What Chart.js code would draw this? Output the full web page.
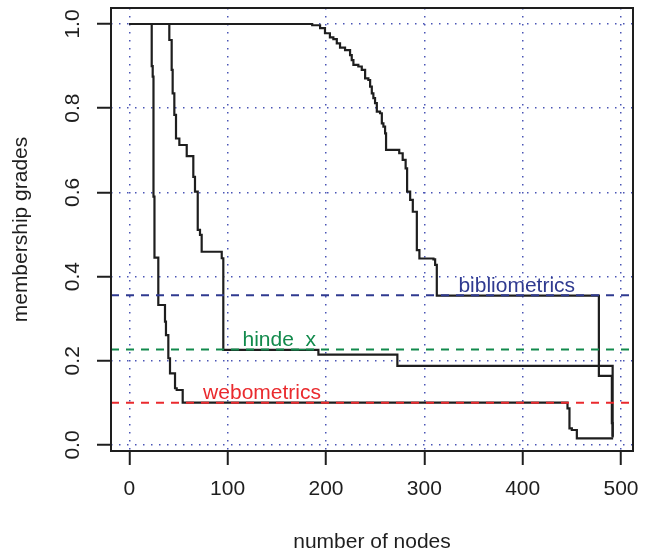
<!DOCTYPE html>
<html>
<head>
<meta charset="utf-8">
<script src="https://cdn.jsdelivr.net/npm/chart.js@4.4.1/dist/chart.umd.min.js"></script>
<style>
  html, body { margin: 0; padding: 0; background: #fff; }
  #wrap { width: 648px; height: 554px; }
</style>
</head>
<body>
<div id="wrap"><canvas id="membershipChart" width="648" height="554"></canvas></div>
<script>
// Step curves: node where each step lands, grade after the step
const webNodes  = [0, 22.8, 23.8, 24.6, 25.6, 29.5, 36.3, 37.3, 39.7, 41.4, 46.5, 48.2, 54.3, 445.6, 447.6, 450, 455.1, 492];
const webGrades = [1, 0.90, 0.875, 0.59, 0.445, 0.3325, 0.293, 0.261, 0.206, 0.170, 0.1347, 0.1306, 0.1005, 0.087, 0.0396, 0.0356, 0.0159, 0.0159];

const hindeNodes  = [0, 40.7, 43.1, 44.1, 45.8, 47.5, 50.9, 58.4, 65.1, 66.8, 69.6, 71.9, 73.6, 94, 95.6, 192.3, 272.6, 491.5];
const hindeGrades = [1, 0.962, 0.891, 0.835, 0.784, 0.728, 0.7126, 0.686, 0.637, 0.602, 0.511, 0.499, 0.459, 0.4435, 0.2257, 0.2145, 0.1877, 0.018];

const biblioNodes  = [0, 186, 194, 199, 204, 207.5, 211, 214.3, 219.4, 224.5, 226.2, 227.9, 232.9, 236.4, 239.8, 243.1, 244.9, 246.6, 248.2, 249.9,
                      251.7, 255, 256.8, 258.4, 260.1, 261.1, 274.5, 278, 281, 282.5, 285.6, 288.3, 292.4, 295, 309.3, 311, 312.7, 477.5, 490.7, 491.5];
const biblioGrades = [1, 0.997, 0.990, 0.978, 0.968, 0.964, 0.954, 0.944, 0.938, 0.926, 0.914, 0.903, 0.899, 0.891, 0.871, 0.867, 0.851, 0.835, 0.824, 0.812,
                      0.792, 0.788, 0.764, 0.756, 0.740, 0.701, 0.693, 0.677, 0.657, 0.602, 0.582, 0.554, 0.463, 0.443, 0.441, 0.428, 0.355, 0.164, 0.052, 0.02];

// horizontal reference levels and their labels
const refLabels = ["bibliometrics", "hinde_x", "webometrics"];
const refLevels = [0.3555, 0.227, 0.1005];
const refColors = ["#2f3a90", "#128a4c", "#ea2a2e"];
const refLabelNodes = [394, 152.5, 135];

const xTicks = [0, 100, 200, 300, 400, 500];
const yTicks = [0, 0.2, 0.4, 0.6, 0.8, 1.0];
const xMin = -18.6, xMax = 512.2;
const yMin = -0.0143, yMax = 1.038;

const textColor = "#1e1e1e";
const gridColor = "#4a55b5";
const baseFont = "'Liberation Sans', Arial, Helvetica, sans-serif";

function toPoints(xs, ys) {
  return xs.map((x, i) => ({ x: x, y: ys[i] }));
}

const refSets = refLevels.map((lvl, i) => ({
  label: refLabels[i],
  data: [{ x: xMin, y: lvl }, { x: xMax, y: lvl }],
  borderColor: refColors[i],
  borderWidth: 2,
  borderDash: [8, 7],
  pointRadius: 0,
  fill: false,
}));

const curveStyle = {
  borderColor: "#1e1e1e",
  borderWidth: 2.2,
  pointRadius: 0,
  stepped: true,
  fill: false,
};

// frame + reference line labels
const boxAndLabels = {
  id: "boxAndLabels",
  afterDatasetsDraw(chart) {
    const { ctx, chartArea, scales } = chart;
    ctx.save();
    ctx.font = "21px " + baseFont;
    ctx.textAlign = "center";
    ctx.textBaseline = "alphabetic";
    refLabels.forEach((label, i) => {
      ctx.fillStyle = refColors[i];
      ctx.fillText(label, scales.x.getPixelForValue(refLabelNodes[i]), scales.y.getPixelForValue(refLevels[i]) - 3.5);
    });
    ctx.strokeStyle = "#1e1e1e";
    ctx.lineWidth = 2;
    ctx.strokeRect(chartArea.left, chartArea.top, chartArea.width, chartArea.height);
    ctx.restore();
  },
};

const ctx = document.getElementById("membershipChart").getContext("2d");
new Chart(ctx, {
  type: "line",
  data: {
    datasets: [
      ...refSets,
      { label: "webometrics curve", data: toPoints(webNodes, webGrades), ...curveStyle },
      { label: "hinde_x curve", data: toPoints(hindeNodes, hindeGrades), ...curveStyle },
      { label: "bibliometrics curve", data: toPoints(biblioNodes, biblioGrades), ...curveStyle },
    ],
  },
  options: {
    responsive: false,
    animation: false,
    layout: { padding: { top: 8, right: 15, bottom: 0, left: 0 } },
    plugins: {
      legend: { display: false },
      tooltip: { enabled: false },
    },
    scales: {
      x: {
        type: "linear",
        min: xMin,
        max: xMax,
        afterBuildTicks: (s) => { s.ticks = xTicks.map((v) => ({ value: v })); },
        afterFit: (s) => { s.height = 103; s.paddingLeft = 0; s.paddingRight = 0; },
        grid: { color: gridColor, lineWidth: 1.5, tickLength: 14, tickColor: textColor, tickWidth: 2, tickBorderDash: [] },
        border: { display: false, dash: [1.5, 6.5] },
        ticks: {
          color: textColor,
          font: { family: baseFont, size: 21 },
          padding: 12,
          maxRotation: 0,
          autoSkip: false,
          callback: (v) => String(v),
        },
        title: {
          display: true,
          text: "number of nodes",
          color: textColor,
          font: { family: baseFont, size: 21, lineHeight: 1 },
          padding: { top: 0, bottom: 1 },
        },
      },
      y: {
        type: "linear",
        min: yMin,
        max: yMax,
        afterBuildTicks: (s) => { s.ticks = yTicks.map((v) => ({ value: v })); },
        afterFit: (s) => { s.width = 111; s.paddingTop = 0; s.paddingBottom = 0; },
        grid: { color: gridColor, lineWidth: 1.5, tickLength: 14, tickColor: textColor, tickWidth: 2, tickBorderDash: [] },
        border: { display: false, dash: [1.5, 6.5] },
        ticks: {
          color: textColor,
          font: { family: baseFont, size: 21 },
          padding: 9,
          minRotation: 90,
          maxRotation: 90,
          crossAlign: "center",
          autoSkip: false,
          callback: (v) => v.toFixed(1),
        },
        title: {
          display: true,
          text: "membership grades",
          color: textColor,
          font: { family: baseFont, size: 21, lineHeight: 1 },
          padding: { top: 10.5, bottom: 0 },
        },
      },
    },
  },
  plugins: [boxAndLabels],
});
</script>
</body>
</html>
